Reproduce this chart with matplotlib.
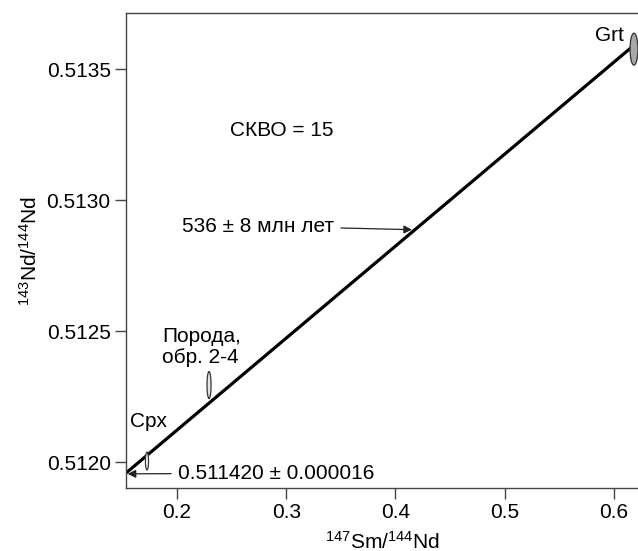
import numpy as np
import matplotlib.pyplot as plt
from matplotlib.patches import Ellipse

plt.rcParams['font.family'] = ['Liberation Sans', 'DejaVu Sans']
plt.rcParams['mathtext.fontset'] = 'custom'
plt.rcParams['mathtext.rm'] = 'Liberation Sans'
plt.rcParams['mathtext.it'] = 'Liberation Sans'

# isochron data
intercept = 0.511420
slope = 0.003511
x_line = [0.1533, 0.622]

# samples: name, x, y, width, height, fill
names = ['Cpx', 'Rock', 'Grt']
sm_nd = [0.1725, 0.2293, 0.6183]
nd_nd = [0.512004, 0.512294, 0.513576]
ell_w = [0.0028, 0.0037, 0.0072]
ell_h = [0.000068, 0.000103, 0.000122]
ell_fill = ['white', '#e6e6e6', '#a8a8a8']

xticks = [0.2, 0.3, 0.4, 0.5, 0.6]
yticks = [0.5120, 0.5125, 0.5130, 0.5135]

fig = plt.figure(figsize=(6.38, 5.51), dpi=100)
ax = fig.add_axes([0.1975, 0.1143, 0.8025, 0.8621])

y_line = [intercept + slope * x for x in x_line]
ax.plot(x_line, y_line, color='black', lw=2.3, solid_capstyle='butt', zorder=2)

for i in range(len(names)):
    e = Ellipse((sm_nd[i], nd_nd[i]), ell_w[i], ell_h[i],
                facecolor=ell_fill[i], edgecolor='#333333', lw=0.9, zorder=3)
    ax.add_patch(e)

ax.set_xlim(0.1533, 0.622)
ax.set_ylim(0.511901, 0.513714)
ax.set_xticks(xticks)
ax.set_xticklabels(['0.2', '0.3', '0.4', '0.5', '0.6'])
ax.set_yticks(yticks)
ax.set_yticklabels(['0.5120', '0.5125', '0.5130', '0.5135'])

for s in ['left', 'bottom', 'top']:
    ax.spines[s].set_color('#444444')
    ax.spines[s].set_linewidth(1.0)
ax.spines['right'].set_visible(False)
ax.tick_params(direction='out', length=8, width=1.0, color='#444444',
               labelsize=15, pad=3)

ax.set_xlabel(r'$^{147}$Sm/$^{144}$Nd', fontsize=15, labelpad=6)
ax.set_ylabel(r'$^{143}$Nd/$^{144}$Nd', fontsize=15, labelpad=4)

ax.text(0.5826, 0.51363, 'Grt', fontsize=15, ha='left', va='center')
ax.text(0.2485, 0.513267, 'СКВО = 15', fontsize=15, ha='left', va='center')
ax.text(0.1863, 0.512439, 'Порода,\nобр. 2-4', fontsize=15, ha='left', va='center',
        linespacing=1.15)
ax.text(0.157, 0.512153, 'Cpx', fontsize=15, ha='left', va='center')

ax.annotate('536 ± 8 млн лет', xy=(0.4151, 0.512887), xytext=(0.2046, 0.512901),
            fontsize=15, ha='left', va='center',
            arrowprops=dict(arrowstyle='-|>', color='#222222', lw=0.9,
                            mutation_scale=12, shrinkA=3, shrinkB=0))
ax.annotate('0.511420 ± 0.000016', xy=(0.1548, 0.511955), xytext=(0.2009, 0.511958),
            fontsize=15, ha='left', va='center',
            arrowprops=dict(arrowstyle='-|>', color='#222222', lw=0.9,
                            mutation_scale=12, shrinkA=3, shrinkB=0))

fig.savefig('out.png', dpi=100)
